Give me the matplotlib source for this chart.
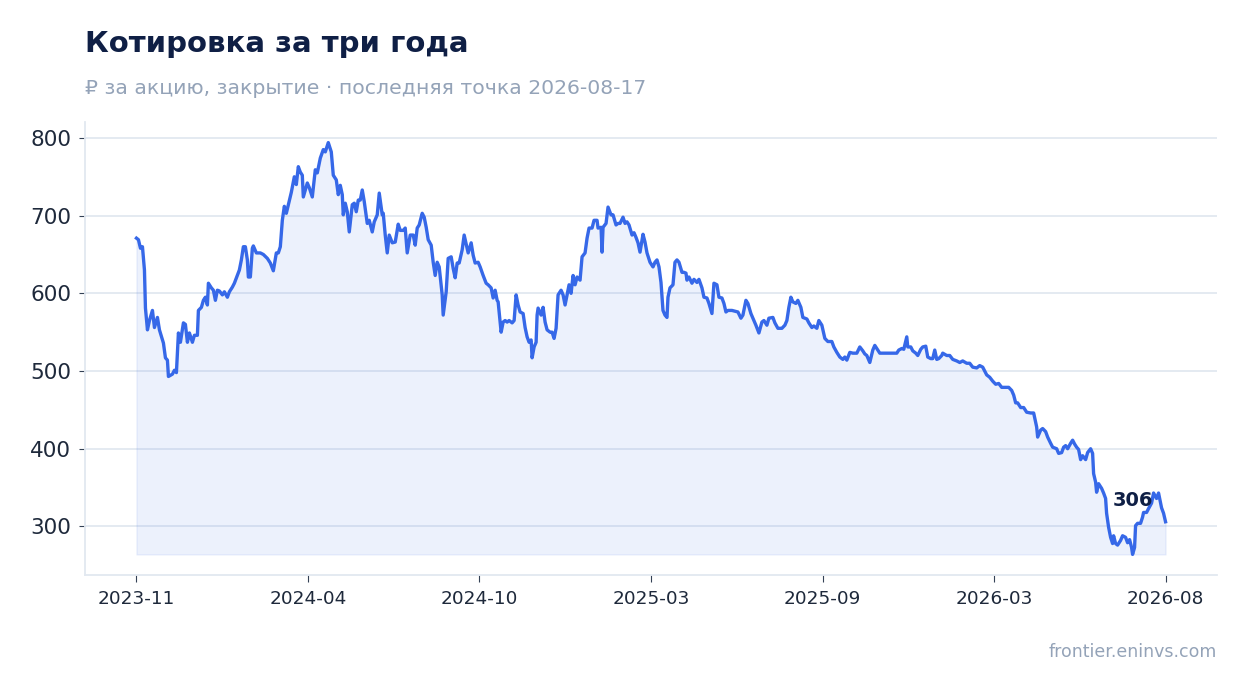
import matplotlib
matplotlib.use('Agg')
import numpy as np
import matplotlib.pyplot as plt

title = 'Котировка за три года'
subtitle = '₽ за акцию, закрытие · последняя точка 2026-08-17'
source = 'frontier.eninvs.com'
tick_labels = ['2023-11', '2024-04', '2024-10', '2025-03', '2025-09', '2026-03', '2026-08']

# days since the first close
day = [
    0, 2, 4, 6, 8, 9, 11, 13, 16, 18,
    21, 23, 26, 27, 29, 31, 32, 36, 38, 40,
    42, 44, 47, 49, 51, 53, 56, 58, 61, 62,
    65, 67, 69, 71, 72, 75, 77, 79, 81, 83,
    86, 88, 91, 93, 96, 98, 101, 103, 105, 107,
    109, 111, 112, 114, 116, 117, 120, 124, 127, 131,
    134, 137, 140, 142, 144, 146, 148, 150, 152, 155,
    158, 160, 162,
    164, 166, 167, 171, 173, 176, 179, 181, 184, 187,
    189, 192, 195, 197, 200, 202, 204, 206, 207, 209,
    211, 213, 216, 218, 220, 222, 224, 226, 228, 231,
    233, 236, 238, 241, 243, 246, 247, 249, 251, 253,
    256, 259, 262, 264, 267, 269, 271, 274, 277, 279,
    281, 283, 286, 288, 290, 292, 295, 297, 299, 301,
    303, 306, 307, 310, 312, 315, 317, 319, 321, 323,
    326, 328, 331, 332, 335, 337, 339, 342,
    344, 347, 350, 352, 355, 357, 359, 361, 362, 365,
    367, 369, 371, 373, 376, 378, 380, 382, 384, 387,
    389, 391, 393, 395, 396, 398, 400, 401, 402, 405,
    407, 409, 411, 414, 416, 418, 420, 422, 425, 427,
    429, 431, 433, 435, 437, 439, 441, 444, 446, 449,
    451, 453, 456, 458, 461, 462, 465, 466, 467, 470,
    472, 475, 477, 480, 482, 484, 487, 489, 491, 493,
    496, 498, 500, 502, 504, 507, 509, 511,
    514, 517, 519, 521, 523, 525, 527, 529, 531, 532,
    534, 537, 539, 541, 543, 546, 548, 550, 551, 553,
    556, 558, 561, 563, 566, 568, 571, 573, 576, 578,
    581, 583, 586, 588, 590, 592, 596, 599, 602, 605,
    607, 610, 612, 615, 617, 620, 623, 626, 628, 631,
    633, 637, 639, 642, 646, 649, 651, 653, 655, 657,
    660, 662, 665, 667, 669, 671, 673, 676, 678, 681,
    683,
    686, 689, 692, 696, 698, 701, 704, 707, 709, 711,
    714, 717, 719, 721, 724, 727, 729, 731, 734, 737,
    739, 741, 744, 747, 751, 754, 757, 761, 763, 766,
    768, 771, 772, 775, 777, 780, 782, 785, 787, 790,
    792, 795, 797, 799, 801, 803, 806, 807, 811, 814,
    817, 821, 824, 827, 831, 834, 837, 841,
    844, 847, 851, 854, 857, 860, 863, 866, 869, 873,
    876, 878, 880, 882, 885, 888, 891, 895, 898, 901,
    902, 905, 907, 910, 912, 915, 917, 921, 923, 926,
    928, 930, 932, 935, 937, 939, 941, 943, 945, 947,
    950, 952, 955, 957, 958, 960, 961, 963, 966, 968,
    970, 971, 973, 975, 977, 978, 980, 982, 985, 987,
    990, 992, 994, 996, 997, 999, 1000, 1002, 1005, 1007,
    1008, 1011, 1013, 1016, 1018, 1021, 1023, 1026, 1028, 1030,
]

# closing price, rub
close = [
    671, 669, 658, 660, 630, 581, 553, 565, 578, 556,
    569, 553, 540, 536, 517, 514, 493, 496, 501, 498,
    549, 537, 562, 560, 537, 549, 537, 546, 546, 578,
    582, 591, 595, 585, 613, 607, 604, 591, 604, 603,
    598, 602, 595, 602, 608, 613, 623, 630, 643, 660,
    660, 643, 621, 621, 658, 661, 652, 652, 650, 645,
    639, 629, 652, 652, 660, 694, 712, 703, 714, 730,
    750, 740, 763,
    756, 752, 724, 742, 736, 724, 759, 755, 774, 785,
    782, 794, 782, 752, 746, 727, 739, 727, 701, 716,
    705, 679, 714, 716, 705, 720, 720, 733, 718, 690,
    694, 679, 692, 701, 729, 701, 703, 675, 652, 675,
    665, 666, 689, 681, 681, 684, 652, 675, 675, 662,
    684, 688, 703, 698, 685, 669, 662, 640, 623, 640,
    634, 598, 572, 602, 645, 647, 632, 620, 639, 639,
    656, 675, 658, 652, 665, 649, 639, 640,
    634, 623, 613, 611, 607, 594, 604, 591, 589, 550,
    563, 565, 563, 565, 562, 565, 598, 585, 576, 574,
    556, 544, 537, 540, 517, 531, 537, 572, 581, 572,
    582, 563, 553, 550, 550, 542, 555, 598, 604, 598,
    585, 598, 611, 600, 623, 611, 621, 617, 647, 652,
    671, 684, 684, 694, 694, 684, 685, 653, 685, 690,
    711, 701, 701, 688, 690, 690, 698, 690, 692, 688,
    675, 678, 672, 665, 653, 676, 666, 652,
    640, 634, 640, 643, 634, 614, 578, 572, 569, 595,
    607, 611, 640, 643, 640, 627, 627, 626, 617, 621,
    613, 618, 614, 618, 607, 595, 594, 587, 574, 613,
    611, 595, 594, 587, 576, 578, 578, 577, 576, 568,
    572, 591, 587, 574, 568, 559, 549, 563, 565, 559,
    568, 569, 562, 555, 555, 559, 565, 582, 595, 589,
    587, 591, 582, 569, 568, 567, 562, 556, 558, 555,
    565,
    559, 542, 538, 538, 531, 524, 518, 515, 518, 514,
    524, 523, 523, 523, 531, 526, 522, 520, 511, 527,
    533, 529, 523, 523, 523, 523, 523, 523, 527, 529,
    528, 544, 531, 531, 526, 523, 520, 528, 531, 532,
    518, 516, 516, 527, 515, 516, 520, 523, 520, 520,
    515, 513, 511, 513, 510, 510, 505, 504,
    507, 505, 495, 492, 487, 483, 484, 479, 479, 479,
    475, 469, 459, 459, 453, 453, 447, 446, 446, 428,
    415, 424, 426, 422, 415, 407, 402, 400, 394, 395,
    402, 404, 400, 407, 411, 406, 402, 399, 386, 391,
    386, 395, 400, 394, 368, 357, 344, 355, 349, 343,
    336, 317, 299, 286, 278, 288, 278, 276, 282, 288,
    286, 279, 283, 273, 264, 273, 301, 304, 304, 312,
    318, 318, 323, 330, 343, 336, 343, 324, 317, 306,
]

line_color = '#3668e8'
navy = '#0f1f45'
muted = '#94a3b8'
light = '#e2e8f0'

fig = plt.figure(figsize=(12.47, 6.93), dpi=100)
ax = fig.add_axes([85 / 1247, 1 - 575 / 693, 1132 / 1247, 453 / 693])

ax.fill_between(day, close, min(close), color=line_color, alpha=0.09, linewidth=1)
ax.plot(day, close, color=line_color, lw=2.4)

ax.annotate(str(close[-1]), xy=(day[-1], close[-1]), xytext=(-9, 15),
            textcoords='offset points', ha='right', va='center',
            fontsize=14, fontweight='bold', color=navy)

ax.set_xticks(np.linspace(day[0], day[-1], len(tick_labels)))
ax.set_xticklabels(tick_labels)
ax.tick_params(axis='x', labelsize=13.3, colors='#334155', labelcolor='#1e293b', length=5, pad=6)
ax.tick_params(axis='y', labelsize=15.5, colors='#334155', labelcolor='#1e293b', length=4, pad=6)

ax.grid(axis='y', color=light, lw=1.3)
ax.set_axisbelow(True)
for s in ['top', 'right']:
    ax.spines[s].set_visible(False)
for s in ['left', 'bottom']:
    ax.spines[s].set_color(light)
    ax.spines[s].set_linewidth(1.3)

fig.text(85 / 1247, 1 - 44 / 693, title, fontsize=21, fontweight='bold', color=navy, va='center')
fig.text(85 / 1247, 1 - 88 / 693, subtitle, fontsize=14.7, color=muted, va='center')
fig.text(1217 / 1247, 1 - 652 / 693, source, fontsize=12.5, color=muted, ha='right', va='center')

fig.savefig('out.png', dpi=100)
